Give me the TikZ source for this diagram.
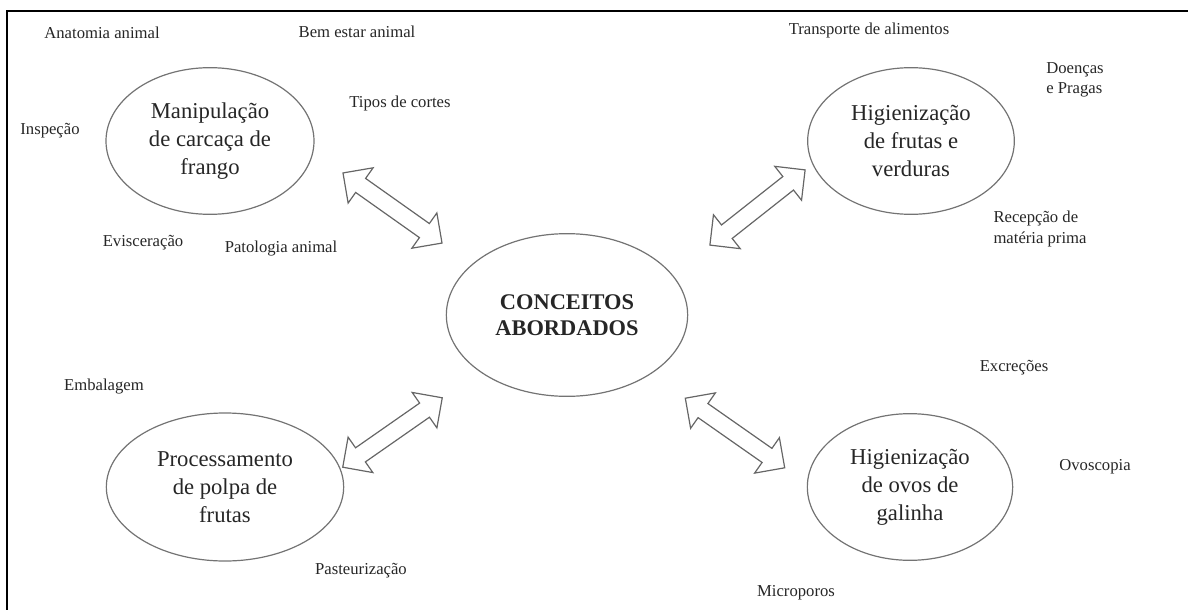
\documentclass[tikz,border=0pt]{standalone}
\usepackage{fontspec}
\setmainfont{Liberation Serif}
\usetikzlibrary{shapes.geometric,shapes.arrows}

\tikzset{
    tema/.style={ellipse, draw=black!55, line width=0.9pt, inner sep=0pt, align=center,
        text=black!85, font=\fontsize{17}{21}\selectfont},
    rotulo/.style={inner sep=0pt, align=left, text=black!85, font=\fontsize{12.5}{15.5}\selectfont},
    seta/.style={double arrow, draw=black!60, line width=0.9pt, inner xsep=0pt, inner ysep=6pt,
        minimum height=91pt, double arrow head extend=9.75pt}
}

\begin{document}
\begin{tikzpicture}[x=0.75pt, y=-0.75pt]
    \useasboundingbox (0,0) rectangle (1188,610);
    \draw[line width=1.5pt] (7,610) -- (7,11) -- (1188,11);

    % temas
    \node[tema, minimum width=156pt, minimum height=110pt] (manip) at (210,141)
        {Manipulação\\de carcaça de\\frango};
    \node[tema, minimum width=155pt, minimum height=110pt] (frutas) at (911,141)
        {Higienização\\de frutas e\\verduras};
    \node[tema, minimum width=178pt, minimum height=111pt] (polpa) at (225,487)
        {Processamento\\de polpa de\\frutas};
    \node[tema, minimum width=154pt, minimum height=110pt] (ovos) at (910,487)
        {Higienização\\de ovos de\\galinha};
    \node[tema, minimum width=181pt, minimum height=122pt, font=\fontsize{16.8}{19.5}\selectfont\bfseries]
        (conceitos) at (567,315) {CONCEITOS\\ABORDADOS};

    % setas
    \node[seta, rotate=-35.3] (s1) at (392.5,208) {};
    \node[seta, rotate=38.3] (s2) at (757.5,207.5) {};
    \node[seta, rotate=34.9] (s3) at (392.5,432.5) {};
    \node[seta, rotate=-35] (s4) at (735,433) {};

    % conceitos do frango
    \node[rotulo] (anatomia) at (102,33) {Anatomia animal};
    \node[rotulo] (bemestar) at (357,32) {Bem estar animal};
    \node[rotulo] (cortes) at (400,103) {Tipos de cortes};
    \node[rotulo] (inspecao) at (50,131) {Inspeção};
    \node[rotulo] (evisceracao) at (143,243) {Evisceração};
    \node[rotulo] (patologia) at (281,249) {Patologia animal};

    % conceitos das frutas e verduras
    \node[rotulo] (transporte) at (869,30) {Transporte de alimentos};
    \node[rotulo] (doencas) at (1075,80) {Doenças\\e Pragas};
    \node[rotulo] (recepcao) at (1040,229) {Recepção de\\matéria prima};

    % conceitos da polpa
    \node[rotulo] (embalagem) at (104,387) {Embalagem};
    \node[rotulo] (pasteurizacao) at (361,571) {Pasteurização};

    % conceitos dos ovos
    \node[rotulo] (excrecoes) at (1014,368) {Excreções};
    \node[rotulo] (ovoscopia) at (1095,467) {Ovoscopia};
    \node[rotulo] (microporos) at (796,593) {Microporos};
\end{tikzpicture}
\end{document}
